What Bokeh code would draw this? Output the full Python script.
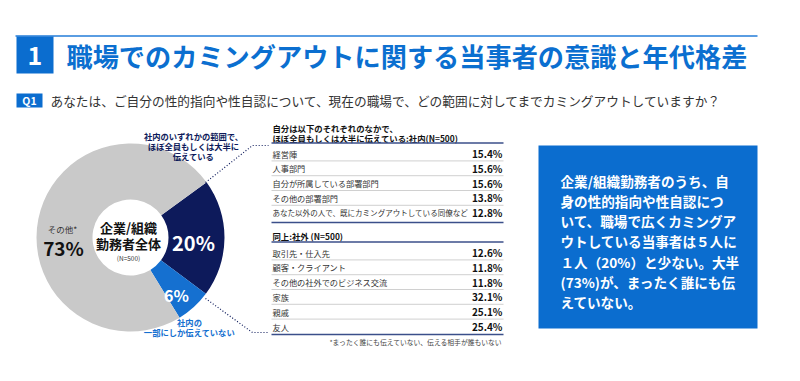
import numpy as np
from bokeh.plotting import figure
from bokeh.models import Range1d
from bokeh.core.properties import value
from bokeh.embed import file_html
from bokeh.resources import INLINE

# ---------------- data ----------------
title_text = "職場でのカミングアウトに関する当事者の意識と年代格差"
question_text = "あなたは、ご自分の性的指向や性自認について、現在の職場で、どの範囲に対してまでカミングアウトしていますか？"

segment_names = ["社内のいずれかの範囲で、ほぼ全員もしくは大半に伝えている",
                 "社内の一部にしか伝えていない",
                 "その他*"]
segment_shares = [20, 6, 73]
segment_colors = ["#0d1a5b", "#1570d0", "#c9c9c9"]

internal_header = ["自分は以下のそれぞれのなかで、",
                   "ほぼ全員もしくは大半に伝えている:社内(N=500)"]
internal_labels = ["経営陣", "人事部門", "自分が所属している部署部門", "その他の部署部門",
                   "あなた以外の人で、既にカミングアウトしている同僚など"]
internal_values = [15.4, 15.6, 15.6, 13.8, 12.8]

external_header = "同上:社外 (N=500)"
external_labels = ["取引先・仕入先", "顧客・クライアント", "その他の社外でのビジネス交流",
                   "家族", "親戚", "友人"]
external_values = [12.6, 11.8, 11.8, 32.1, 25.1, 25.4]

footnote = "*まったく誰にも伝えていない、伝える相手が誰もいない"

box_lines = ["企業/組織勤務者のうち、自",
             "身の性的指向や性自認につ",
             "いて、職場で広くカミングア",
             "ウトしている当事者は５人に",
             "１人（20%）と少ない。大半",
             "(73%)が、まったく誰にも伝",
             "えていない。"]

# ---------------- figure ----------------
W, H = 784, 365
p = figure(width=W, height=H, x_range=Range1d(0, W), y_range=Range1d(-H, 0),
           output_backend="svg", toolbar_location=None, x_axis_type=None, y_axis_type=None,
           min_border=0, outline_line_color=None, background_fill_color="white")
p.grid.visible = False

FONT = value("Noto Sans CJK JP")
NAVY = "#0d1a5b"
BLUE = "#0b6dcf"


def txt(x, y, s, size, color="#222222", bold=False, align="left", baseline="middle"):
    p.text(x=[x], y=[-y], text=[s], text_font=FONT, text_font_size=size,
           text_color=color, text_font_style="bold" if bold else "normal",
           text_align=align, text_baseline=baseline)


def hline(x0, x1, y, color, width=1.0, dash="solid"):
    p.segment(x0=[x0], y0=[-y], x1=[x1], y1=[-y], line_color=color, line_width=width, line_dash=dash)


def fit_size(label, max_w=196.0, base=8.2):
    em = sum(1.0 if ord(c) > 0x2000 else 0.55 for c in label)
    return f"{min(base, max_w / em):.2f}px"


# ---------------- header ----------------
hline(15, 757, 35.5, "#5a9de2", 2)
p.quad(left=[16], right=[53], top=[-36], bottom=[-73], fill_color=BLUE, line_color=None)
txt(34.5, 55, "1", "25px", "white", True, "center")
txt(66, 55, title_text, "26.2px", "#0b6fd0", True)

p.quad(left=[16], right=[42], top=[-93], bottom=[-107], fill_color=BLUE, line_color=None)
txt(29, 100, "Q1", "10.5px", "white", True, "center")
txt(50, 100, question_text, "12.7px", "#333333")

# ---------------- donut ----------------
cx, cy = 130, 237
total = float(sum(segment_shares))
a0 = np.deg2rad(36)
ends = a0 - 2 * np.pi * np.cumsum(segment_shares) / total
starts = np.concatenate([[a0], ends[:-1]])
p.annular_wedge(x=cx, y=-cy, inner_radius=38, outer_radius=94,
                start_angle=ends, end_angle=starts, color=segment_colors, line_color=None)

# centre label
txt(128, 227, "企業/組織", "13px", "#111111", True, "center")
txt(128, 243, "勤務者全体", "13px", "#111111", True, "center")
txt(128, 257, "(N=500)", "6.5px", "#333333", False, "center")

# segment value labels
txt(193, 242, f"{segment_shares[0]}%", "20px", "white", True, "center")
txt(176, 294, f"{segment_shares[1]}%", "16px", "white", True, "center")
txt(62, 228, segment_names[2], "8.5px", "#333333", False, "center")
txt(63, 247, f"{segment_shares[2]}%", "19px", "#111111", True, "center")

# callouts
for i, s in enumerate(["社内のいずれかの範囲で、", "ほぼ全員もしくは大半に", "伝えている"]):
    txt(193, 135 + i * 10, s, "8.3px", NAVY, True, "center")
p.line(x=[205, 252, 268], y=[-182, -145, -145], line_color=NAVY, line_width=1.2, line_dash="1 2")

for i, s in enumerate(["社内の", "一部にしか伝えていない"]):
    txt(189, 321 + i * 10, s, "8.3px", "#1570d0", True, "center")
p.line(x=[205, 252, 268], y=[-298, -332, -332], line_color=NAVY, line_width=1.2, line_dash="1 2")

# ---------------- table ----------------
TX0, TX1, VX = 271, 503, 502
txt(272, 127, internal_header[0], "8.4px", "#111111", True)
txt(272, 137, internal_header[1], "8.4px", "#111111", True)
hline(TX0, TX1, 142.5, "#3b4f8a", 1.3)
step = 14.8
for i, (lab, v) in enumerate(zip(internal_labels, internal_values)):
    y = 153 + i * step
    txt(272, y, lab, fit_size(lab), "#333333")
    txt(VX, y, f"{v:.1f}%", "10px", "#111111", True, "right")
    if i < len(internal_labels) - 1:
        hline(TX0, TX1, y + step / 2, "#c4c4c4", 0.8)
hline(TX0, TX1, 222, "#3b4f8a", 1.3)

txt(272, 235, external_header, "8.4px", "#111111", True)
hline(TX0, TX1, 241.5, "#3b4f8a", 1.3)
for i, (lab, v) in enumerate(zip(external_labels, external_values)):
    y = 252 + i * step
    txt(272, y, lab, fit_size(lab), "#333333")
    txt(VX, y, f"{v:.1f}%", "10px", "#111111", True, "right")
    if i < len(external_labels) - 1:
        hline(TX0, TX1, y + step / 2, "#c4c4c4", 0.8)
hline(TX0, TX1, 334, "#3b4f8a", 1.3)
txt(502, 341, footnote, "6.8px", "#444444", False, "right")

# ---------------- summary box ----------------
p.quad(left=[538], right=[757], top=[-145], bottom=[-328], fill_color=BLUE, line_color=None)
for i, s in enumerate(box_lines):
    txt(560, 180 + i * 20.3, s, "13.6px", "white", True)

open("out.html", "w").write(file_html(p, INLINE))
